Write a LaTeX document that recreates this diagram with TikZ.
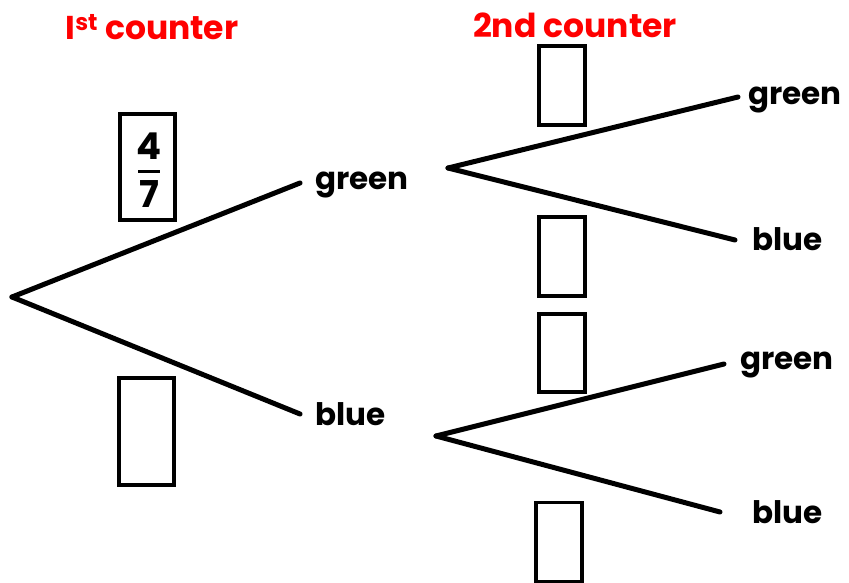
\documentclass[tikz,border=0pt]{standalone}
\usepackage{fontspec}
\setmainfont{Poppins}[BoldFont={Poppins Bold}]
\definecolor{titlered}{RGB}{255,0,0}
\begin{document}
\begin{tikzpicture}[x=1pt,y=-1pt,
  branch/.style={line width=5pt,line cap=round},
  lbl/.style={font=\fontsize{31}{31}\selectfont\bfseries,inner sep=0pt,anchor=west},
  ttl/.style={font=\fontsize{33}{33}\selectfont\bfseries,text=titlered,inner sep=0pt},
  digit/.style={font=\fontsize{37}{37}\selectfont\bfseries,inner sep=0pt},
  probbox/.style={draw,line width=3.5pt,inner sep=0pt}]
\useasboundingbox (0,0) rectangle (849,583);
% titles
\node[ttl] (t1) at (152,27) {I\textsuperscript{st} counter};
\node[ttl] (t2) at (575,25) {2nd counter};
% boxes
\node[probbox,minimum width=55pt,minimum height=106pt] (b1) at (147.5,167) {};
\node[digit] (num) at (149,146) {4};
\node[digit] (den) at (149,194) {7};
\draw[line width=2.5pt] (num.south) ++(-11,12) coordinate (barl) -- ++(22,0) coordinate (barr);
\node[probbox,minimum width=55pt,minimum height=107pt] (b2) at (146.5,431.5) {};
\node[probbox,minimum width=46pt,minimum height=79pt] (b3) at (562,85.5) {};
\node[probbox,minimum width=46pt,minimum height=79pt] (b4) at (562,256.5) {};
\node[probbox,minimum width=46pt,minimum height=78pt] (b5) at (562,353) {};
\node[probbox,minimum width=46pt,minimum height=79pt] (b6) at (559,542) {};
% tree
\coordinate (root) at (12,297);
\node[lbl] (g1) at (315,185) {green};
\node[lbl] (bl1) at (315,414) {blue};
\coordinate (g1in) at (300,183);
\coordinate (g1out) at (448,168);
\coordinate (bl1in) at (300,414);
\coordinate (bl1out) at (436,436);
\coordinate (g2in) at (738,97);
\coordinate (b2in) at (735,240);
\coordinate (g3in) at (724,364);
\coordinate (b3in) at (720,512);
\node[lbl] (g2) at (748,100) {green};
\node[lbl] (bb2) at (752,239) {blue};
\node[lbl] (g3) at (740,365) {green};
\node[lbl] (bb3) at (752,512) {blue};
\draw[branch] (root) -- (g1in);
\draw[branch] (root) -- (bl1in);
\draw[branch] (g1out) -- (g2in);
\draw[branch] (g1out) -- (b2in);
\draw[branch] (bl1out) -- (g3in);
\draw[branch] (bl1out) -- (b3in);
\end{tikzpicture}
\end{document}
